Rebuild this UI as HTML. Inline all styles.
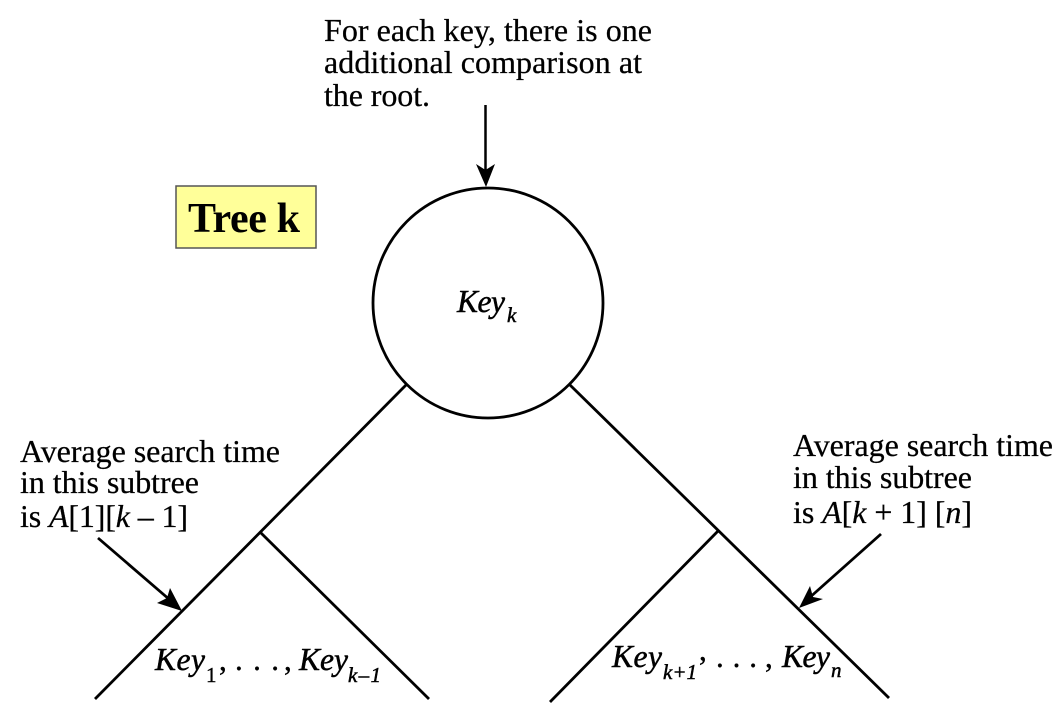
<!DOCTYPE html>
<html>
<head>
<meta charset="utf-8">
<style>
html,body{margin:0;padding:0;background:#fff;}
svg{display:block;}
text{font-family:"Liberation Serif",serif;fill:#000;stroke:#000;stroke-width:0.25px;}
.t{font-size:32px;}
.k{font-size:31.5px;font-style:italic;stroke-width:0.5px;}
.p{font-size:31px;stroke-width:0.4px;}
.s{font-size:21px;font-style:italic;stroke-width:0.5px;}
.r{font-size:21px;stroke-width:0.4px;}
.i{font-style:italic;}
</style>
</head>
<body>
<svg width="1061" height="708" viewBox="0 0 1061 708">
<g>
<text class="t" x="324" y="41" textLength="328">For each key, there is one</text>
<text class="t" x="324" y="73" textLength="318">additional comparison at</text>
<text class="t" x="324" y="106" textLength="106">the root.</text>
</g>
<g>
<line x1="485.5" y1="105" x2="485.5" y2="172" stroke="#000" stroke-width="2.5"/>
<polygon points="476,164 486,187 495,164 485.5,170" fill="#000"/>
</g>
<g>
<rect x="176" y="186" width="140" height="62" fill="#ffff99" stroke="#555" stroke-width="1.5"/>
<text x="188" y="232" style="font-size:42px;font-weight:bold;stroke-width:0" textLength="112">Tree k</text>
</g>
<circle cx="488" cy="303" r="115" fill="#fff" stroke="#000" stroke-width="2.8"/>
<g>
<text class="k" x="457" y="312" textLength="48">Key</text>
<text class="s" x="507" y="322">k</text>
</g>
<g stroke="#000" stroke-width="2.8" fill="none">
<line x1="406" y1="385" x2="95" y2="699"/>
<line x1="570" y1="385" x2="889" y2="698"/>
<line x1="260" y1="532" x2="429" y2="699"/>
<line x1="719" y1="530" x2="550" y2="702"/>
</g>
<g>
<text class="t" x="20" y="462" textLength="260">Average search time</text>
<text class="t" x="20" y="493" textLength="179">in this subtree</text>
<text class="t" x="20" y="527" textLength="168">is <tspan class="i">A</tspan>[1][<tspan class="i">k</tspan> – 1]</text>
</g>
<g>
<line x1="98" y1="538" x2="170" y2="600" stroke="#000" stroke-width="2.8"/>
<polygon points="182,611 157,603 167,598 170,588" fill="#000"/>
</g>
<g>
<text class="t" x="793" y="456" textLength="260">Average search time</text>
<text class="t" x="793" y="488" textLength="179">in this subtree</text>
<text class="t" x="793" y="523" textLength="179">is <tspan class="i">A</tspan>[<tspan class="i">k</tspan> + 1] [<tspan class="i">n</tspan>]</text>
</g>
<g>
<line x1="881" y1="534" x2="808" y2="599" stroke="#000" stroke-width="2.8"/>
<polygon points="799,608 810,586 813,597 823,599" fill="#000"/>
</g>
<g>
<text class="k" x="155" y="670" textLength="50">Key</text>
<text class="r" x="206" y="682">1</text>
<text class="p" x="219" y="670">,</text>
<text class="p" x="235" y="670" textLength="44">. . .</text>
<text class="p" x="284" y="670">,</text>
<text class="k" x="299" y="670" textLength="49">Key</text>
<text class="s" x="348" y="682" textLength="33">k–1</text>
</g>
<g>
<text class="k" x="612" y="667" textLength="50">Key</text>
<text class="s" x="663" y="679" textLength="34">k+1</text>
<text class="p" x="699" y="660">,</text>
<text class="p" x="716" y="667" textLength="41">. . .</text>
<text class="p" x="765" y="667">,</text>
<text class="k" x="782" y="667" textLength="48">Key</text>
<text class="s" x="831" y="677">n</text>
</g>
</svg>
</body>
</html>
